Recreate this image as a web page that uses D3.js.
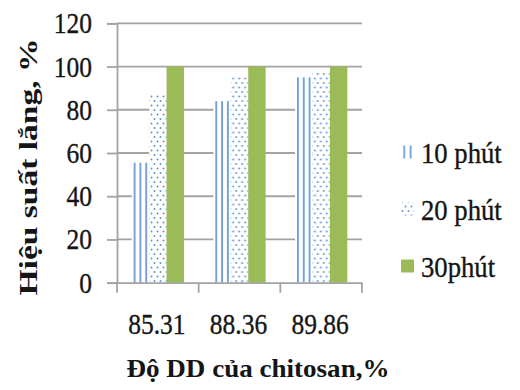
<!DOCTYPE html>
<html>
<head>
<meta charset="utf-8">
<script src="https://cdn.jsdelivr.net/npm/d3@7"></script>
<style>
  html, body { margin: 0; padding: 0; background: #fff; }
  svg { display: block; }
</style>
</head>
<body>
<svg id="chart" width="520" height="390"></svg>
<script>
// DD degree of chitosan (x categories)
const categories = ["85.31", "88.36", "89.86"];
// Settling efficiency (%) per settling time
const seriesNames = ["10 phút", "20 phút", "30phút"];
const values10 = [55.5, 84, 95];
const values20 = [87.5, 95, 97.5];
const values30 = [100, 100, 100];
const yTicks = [0, 20, 40, 60, 80, 100, 120];

const seriesValues = [values10, values20, values30];
const rows = categories.map((c, i) => ({
  cat: c,
  vals: seriesNames.map((s, j) => ({ key: s, idx: j, value: seriesValues[j][i] }))
}));

const serif = "'Liberation Serif', 'Times New Roman', serif";
const ink = "#151515";
const svg = d3.select("#chart");
const plotLeft = 117, plotRight = 362, plotTop = 23.3, plotBottom = 282.7;

const x = d3.scaleBand().domain(categories).range([plotLeft, plotRight]).padding(0);
const xSub = d3.scaleBand().domain(seriesNames)
  .range([x.bandwidth() * 0.18, x.bandwidth() * 0.82]).padding(0);
const y = d3.scaleLinear().domain([0, 120]).range([plotBottom, plotTop]);

const blue = "#5b8ed6";
const green = "#9bbb59";
const gridCol = "#a3a3a3";

// Regular-weight labels: slightly heavier strokes, narrowed horizontally
function labelStyle(sel, size) {
  sel.style("font-family", serif).attr("font-size", size)
    .attr("fill", ink).attr("stroke", ink).attr("stroke-width", 0.35);
}

// Fill patterns
const defs = svg.append("defs");
const bw = xSub.bandwidth();
const tileW = bw / 3;
const pLines = defs.append("pattern").attr("id", "pLines")
  .attr("patternUnits", "objectBoundingBox")
  .attr("width", 1 / 3).attr("height", 1);
pLines.append("rect").attr("width", tileW).attr("height", 400).attr("fill", "#fff");
pLines.append("rect").attr("x", tileW / 2 - 0.8).attr("width", 1.6).attr("height", 400).attr("fill", blue);

const pLinesLeg = defs.append("pattern").attr("id", "pLinesLeg")
  .attr("patternUnits", "objectBoundingBox")
  .attr("width", 0.5).attr("height", 1);
pLinesLeg.append("rect").attr("width", 6.5).attr("height", 20).attr("fill", "#fff");
pLinesLeg.append("rect").attr("x", 2.4).attr("width", 1.6).attr("height", 20).attr("fill", blue);

const pDots = defs.append("pattern").attr("id", "pDots")
  .attr("patternUnits", "userSpaceOnUse")
  .attr("width", 6).attr("height", 9);
pDots.append("rect").attr("width", 6).attr("height", 9).attr("fill", "#fff");
pDots.append("circle").attr("cx", 1.5).attr("cy", 2).attr("r", 0.95).attr("fill", blue);
pDots.append("circle").attr("cx", 4.5).attr("cy", 6.5).attr("r", 0.95).attr("fill", blue);

const fills = ["url(#pLines)", "url(#pDots)", green];

// Gridlines
svg.append("g").selectAll("line").data(yTicks.filter(t => t > 0)).join("line")
  .attr("x1", plotLeft).attr("x2", plotRight)
  .attr("y1", d => y(d)).attr("y2", d => y(d))
  .attr("stroke", gridCol).attr("stroke-width", 1.8);

// Bars
svg.append("g").selectAll("g").data(rows).join("g")
  .attr("transform", d => `translate(${x(d.cat)},0)`)
  .selectAll("rect").data(d => d.vals).join("rect")
  .attr("x", d => xSub(d.key))
  .attr("width", bw)
  .attr("y", d => y(d.value))
  .attr("height", d => y(0) - y(d.value))
  .attr("fill", d => fills[d.idx]);

// Y axis
const yAxis = d3.axisLeft(y).tickValues(yTicks).tickSize(10).tickPadding(14);
const gy = svg.append("g").attr("transform", `translate(${plotLeft},0)`).call(yAxis);
gy.select(".domain").attr("stroke", gridCol).attr("stroke-width", 1.8);
gy.selectAll(".tick line").attr("stroke", gridCol).attr("stroke-width", 1.8);
gy.selectAll(".tick text")
  .call(labelStyle, 30)
  .attr("x", 0).attr("dy", null).attr("y", 0)
  .attr("transform", "translate(-25,9.5) scale(0.85,1)");

// X axis
const xAxis = d3.axisBottom(x).tickSize(0).tickPadding(0);
const gx = svg.append("g").attr("transform", `translate(0,${plotBottom})`).call(xAxis);
gx.select(".domain").attr("stroke", gridCol).attr("stroke-width", 1.8);
gx.selectAll(".tick text")
  .call(labelStyle, 30)
  .attr("y", 0).attr("dy", null)
  .attr("transform", "translate(-1,51) scale(0.85,1)");
// Category boundary ticks
gx.append("g").selectAll("line").data([...categories.map(c => x(c)), plotRight]).join("line")
  .attr("x1", d => d).attr("x2", d => d).attr("y1", 0).attr("y2", 10)
  .attr("stroke", gridCol).attr("stroke-width", 1.8);

// Axis titles
svg.append("text")
  .attr("x", 258).attr("y", 377)
  .style("font-family", serif).attr("fill", ink)
  .attr("text-anchor", "middle").attr("font-weight", "bold").attr("font-size", 26)
  .attr("textLength", 263).attr("lengthAdjust", "spacingAndGlyphs")
  .text("Độ DD của chitosan,%");

svg.append("text")
  .attr("transform", "translate(37,167) rotate(-90)")
  .style("font-family", serif).attr("fill", ink)
  .attr("text-anchor", "middle").attr("font-weight", "bold").attr("font-size", 25)
  .attr("textLength", 257).attr("lengthAdjust", "spacingAndGlyphs")
  .text("Hiệu suất lắng, %");

// Legend
const legFills = ["url(#pLinesLeg)", "url(#pDots)", green];
const leg = svg.append("g").selectAll("g").data(seriesNames).join("g")
  .attr("transform", (d, i) => `translate(401,${152 + i * 57})`);
leg.append("rect").attr("x", 0).attr("y", -6.5).attr("width", 13).attr("height", 13)
  .attr("fill", (d, i) => legFills[i]);
leg.append("text").attr("x", 0).attr("y", 0)
  .call(labelStyle, 30)
  .attr("transform", "translate(20,10.5) scale(0.89,1)")
  .text(d => d);
</script>
</body>
</html>
